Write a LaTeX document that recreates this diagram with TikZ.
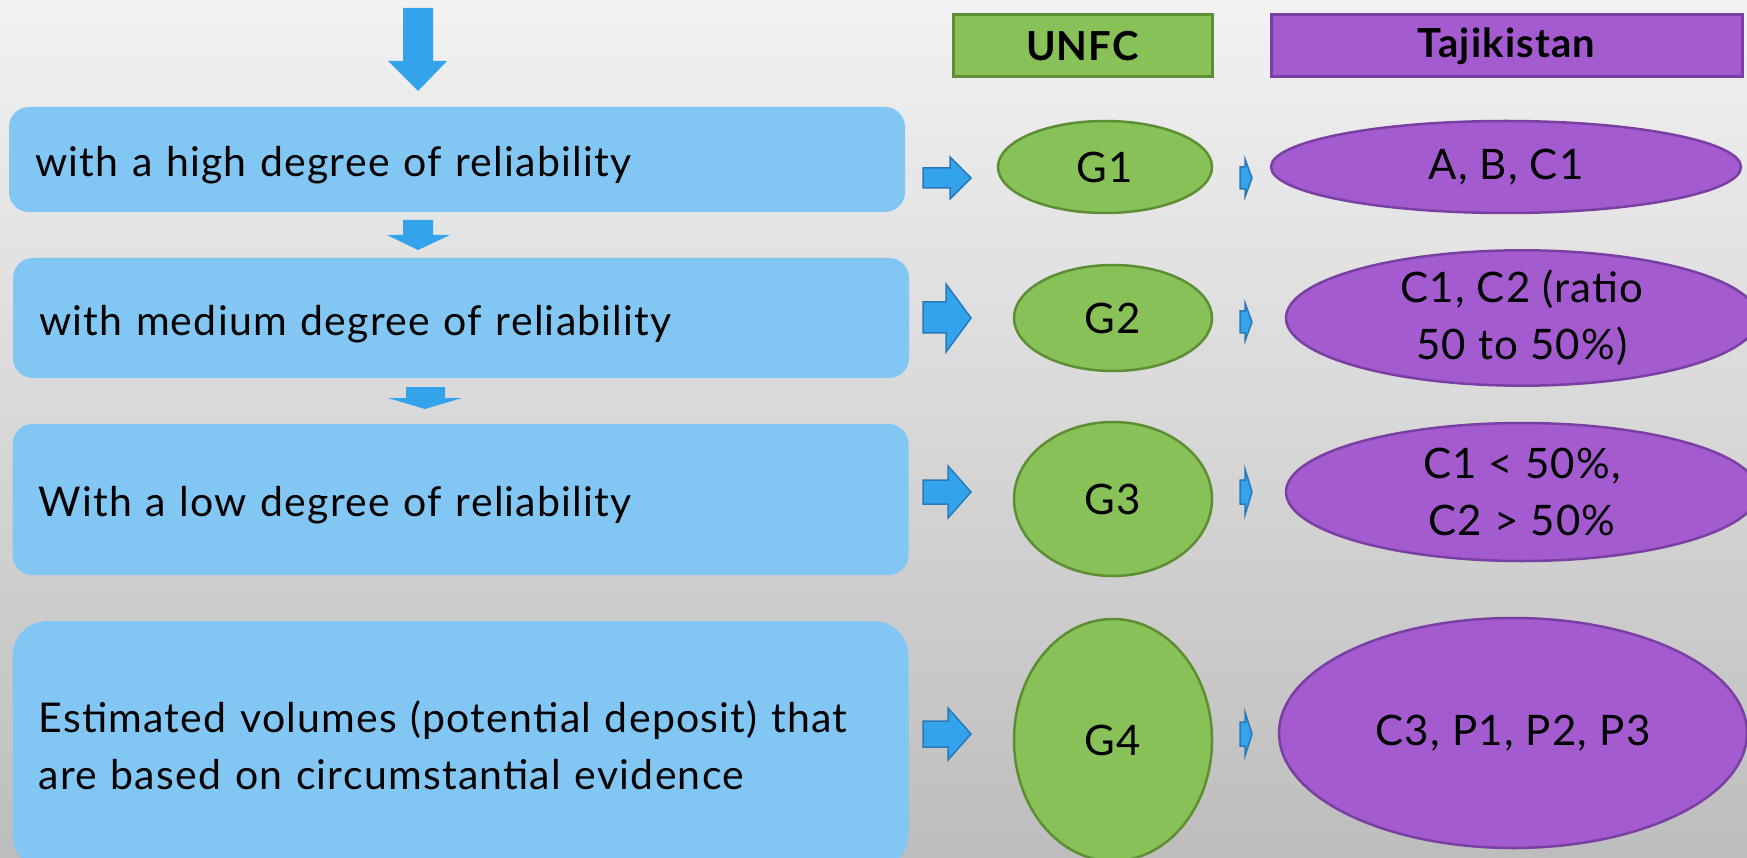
\documentclass[tikz,border=0pt]{standalone}
\usepackage{fontspec}
\setmainfont{Lato}[LetterSpace=3]
\usetikzlibrary{shapes.geometric}
\definecolor{bgtop}{HTML}{F2F2F2}
\definecolor{bgbot}{HTML}{BDBDBD}
\definecolor{boxblue}{HTML}{82C7F3}
\definecolor{arrowblue}{HTML}{33A3EB}
\definecolor{arrowedge}{HTML}{2A78B8}
\definecolor{unfcgreen}{HTML}{88C157}
\definecolor{unfcedge}{HTML}{5E8E34}
\definecolor{tajpurple}{HTML}{A35BCF}
\definecolor{tajedge}{HTML}{7A3FA3}
\tikzset{
  levelbox/.style={fill=boxblue, rounded corners=20pt, inner xsep=26pt, inner ysep=0pt,
    text width=844pt, align=left, font=\fontsize{41}{57}\selectfont},
  oneline/.style={text height=40pt, text depth=6pt},
  gclass/.style={ellipse, fill=unfcgreen, draw=unfcedge, line width=2.5pt, inner sep=0pt,
    align=center, font=\fontsize{42}{57}\selectfont},
  tclass/.style={ellipse, fill=tajpurple, draw=tajedge, line width=2.5pt, inner sep=0pt,
    align=center, font=\fontsize{42}{57}\selectfont},
  headbox/.style={rectangle, line width=3pt, minimum height=62pt, inner sep=0pt,
    font=\bfseries\fontsize{40}{48}\selectfont},
  downarrow/.style={fill=arrowblue},
  rowarrow/.style={fill=arrowblue, draw=arrowedge, line width=1.5pt, line join=miter},
}
\begin{document}
\begin{tikzpicture}[x=1pt, y=-1pt]
    \shade[top color=bgtop, bottom color=bgbot] (0,0) rectangle (1747,858);
    \useasboundingbox (0,0) rectangle (1747,858);
    % headers
    \node[headbox, fill=unfcgreen, draw=unfcedge, minimum width=259pt] (unfc) at (1082.5,46) {UNFC};
    \node[headbox, fill=tajpurple, draw=tajedge, minimum width=471pt] (tajik) at (1506.5,46) {Tajikistan};
    % left column
    \node[levelbox, oneline, minimum height=105pt] (high) at (457,159.5) {with a high degree of reliability};
    \node[levelbox, oneline, minimum height=120pt] (medium) at (461,318) {with medium degree of reliability};
    \node[levelbox, oneline, minimum height=151pt] (low) at (460.5,499.5) {With a low degree of reliability};
    \node[levelbox, minimum height=249pt, rounded corners=35pt] (estimated) at (460.5,745.5) {Estimated volumes (potential deposit) that\\are based on circumstantial evidence};
    % down arrows
    \fill[downarrow] (403,8) -- (433,8) -- (433,61) -- (447,61) -- (418,91) -- (388,61) -- (403,61) -- cycle;
    \fill[downarrow] (403,220) -- (433,220) -- (433,235) -- (450,235) -- (418,250) -- (387,235) -- (403,235) -- cycle;
    \fill[downarrow] (406,387) -- (445,387) -- (445,398) -- (462,398) -- (425,409) -- (388,398) -- (406,398) -- cycle;
    % UNFC column
    \node[gclass, minimum width=214pt, minimum height=92pt] (g1) at (1105,167) {G1};
    \node[gclass, minimum width=198pt, minimum height=106pt] (g2) at (1113,318) {G2};
    \node[gclass, minimum width=198pt, minimum height=154pt] (g3) at (1113,499) {G3};
    \node[gclass, minimum width=198pt, minimum height=242pt] (g4) at (1113,740) {G4};
    % Tajikistan column
    \node[tclass, minimum width=470pt, minimum height=92pt] (t1) at (1506,167) {A, B, C1};
    \node[tclass, minimum width=472pt, minimum height=124pt] (t2) at (1522,318) {C1, C2 (ratio\\50 to 50\%)};
    \node[tclass, minimum width=472pt, minimum height=138pt] (t3) at (1522,492) {C1 < 50\%,\\C2 > 50\%};
    \node[tclass, minimum width=468pt, minimum height=230pt] (t4) at (1513,733) {C3, P1, P2, P3};
    % arrows to UNFC
    \filldraw[rowarrow] (923,168) -- (950,168) -- (950,157) -- (971,178) -- (950,199) -- (950,188) -- (923,188) -- cycle;
    \filldraw[rowarrow] (923,302) -- (946,302) -- (946,284) -- (971,318) -- (946,352) -- (946,333) -- (923,333) -- cycle;
    \filldraw[rowarrow] (923,480) -- (948,480) -- (948,466) -- (971,492) -- (948,518) -- (948,504) -- (923,504) -- cycle;
    \filldraw[rowarrow] (923,721) -- (948,721) -- (948,708) -- (971,734) -- (948,760) -- (948,747) -- (923,747) -- cycle;
    % arrows to Tajikistan
    \filldraw[rowarrow] (1240,167) -- (1245,167) -- (1245,159) -- (1252,178) -- (1245,197) -- (1245,189) -- (1240,189) -- cycle;
    \filldraw[rowarrow] (1240,311) -- (1245,311) -- (1245,303) -- (1252,322) -- (1245,341) -- (1245,333) -- (1240,333) -- cycle;
    \filldraw[rowarrow] (1240,480) -- (1245,480) -- (1245,469) -- (1252,492) -- (1245,515) -- (1245,504) -- (1240,504) -- cycle;
    \filldraw[rowarrow] (1240,722) -- (1245,722) -- (1245,712) -- (1252,734) -- (1245,756) -- (1245,746) -- (1240,746) -- cycle;
\end{tikzpicture}
\end{document}
